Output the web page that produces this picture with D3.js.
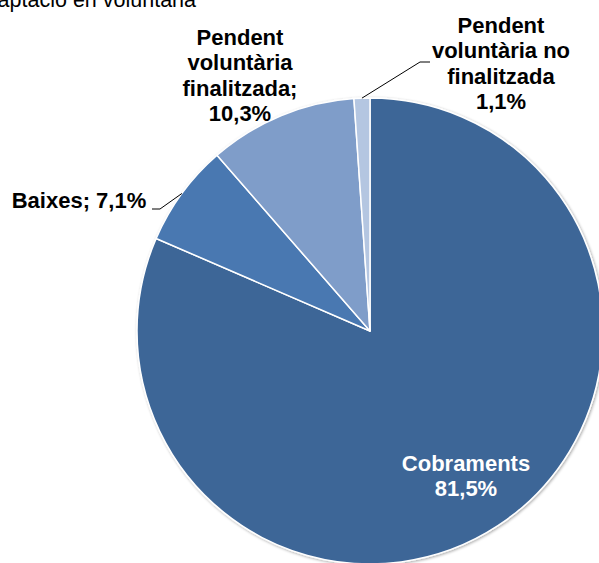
<!DOCTYPE html>
<html>
<head>
<meta charset="utf-8">
<script src="https://cdn.jsdelivr.net/npm/d3@7"></script>
<style>
  body { margin: 0; background: #fff; }
  svg { display: block; font-family: "Liberation Sans", Arial, sans-serif; }
</style>
</head>
<body>
<div class="visual"></div>
<script>
const width = 599;
const height = 563;

// data
const categories = ["Cobraments", "Baixes", "Pendent voluntària finalitzada", "Pendent voluntària no finalitzada"];
const values = [81.5, 7.1, 10.3, 1.1];
const colors = ["#3d6697", "#4878b1", "#7f9dc9", "#b4c6e1"];
const labelLines = [
  ["Cobraments", "81,5%"],
  ["Baixes; 7,1%"],
  ["Pendent", "voluntària", "finalitzada;", "10,3%"],
  ["Pendent", "voluntària no", "finalitzada", "1,1%"]
];

const cx = 370, cy = 331, r = 233;

const svg = d3
  .select(".visual")
  .append("svg")
  .attr("width", width)
  .attr("height", height);

const defs = svg.append("defs");
const filter = defs.append("filter").attr("id", "shadow")
  .attr("x", "-10%").attr("y", "-10%").attr("width", "120%").attr("height", "120%");
filter.append("feGaussianBlur").attr("in", "SourceAlpha").attr("stdDeviation", 1.5);
filter.append("feOffset").attr("dx", 1).attr("dy", 1).attr("result", "off");
filter.append("feComponentTransfer").append("feFuncA").attr("type", "linear").attr("slope", 0.35);
const merge = filter.append("feMerge");
merge.append("feMergeNode");
merge.append("feMergeNode").attr("in", "SourceGraphic");

// title, cut off at the top left like the reference
svg.append("text")
  .attr("x", 196)
  .attr("y", 7)
  .attr("text-anchor", "end")
  .attr("font-size", 21.5)
  .attr("fill", "#000")
  .text("Recaptació en voluntària");

const pie = d3.pie().sort(null).value((d) => d);
const arcs = pie(values);
const arc = d3.arc().innerRadius(0).outerRadius(r);

const g = svg.append("g").attr("transform", `translate(${cx},${cy})`);

g.append("g")
  .attr("filter", "url(#shadow)")
  .selectAll("path")
  .data(arcs)
  .enter()
  .append("path")
  .attr("d", arc)
  .attr("fill", (d, i) => colors[i])
  .attr("stroke", "white")
  .attr("stroke-width", 1.5)
  .attr("stroke-linejoin", "round");

// leader lines, starting on the slice edge
const edge = (d, rr) => {
  const a = (d.startAngle + d.endAngle) / 2;
  return [Math.sin(a) * rr, -Math.cos(a) * rr];
};
const leaders = [
  { i: 1, pts: [[160 - cx, 209 - cy], [152 - cx, 209 - cy]] },
  { i: 3, pts: [[420 - cx, 62 - cy], [430 - cx, 62 - cy]] }
];
leaders.forEach((l) => {
  const p0 = edge(arcs[l.i], r);
  g.append("path")
    .attr("d", d3.line()([p0].concat(l.pts)))
    .attr("fill", "none")
    .attr("stroke", "#000")
    .attr("stroke-width", 1);
});

// labels
const labelPos = [
  { x: 466, y: 471, fill: "#fff" },
  { x: 79, y: 208, fill: "#000" },
  { x: 240, y: 45, fill: "#000" },
  { x: 501, y: 33, fill: "#000" }
];
const lineH = 25.3;

labelLines.forEach((lines, i) => {
  const t = svg.append("text")
    .attr("x", labelPos[i].x)
    .attr("y", labelPos[i].y)
    .attr("text-anchor", "middle")
    .attr("font-size", 22)
    .attr("font-weight", "bold")
    .attr("fill", labelPos[i].fill);
  lines.forEach((s, j) => {
    t.append("tspan")
      .attr("x", labelPos[i].x)
      .attr("dy", j === 0 ? 0 : lineH)
      .text(s);
  });
});
</script>
</body>
</html>
